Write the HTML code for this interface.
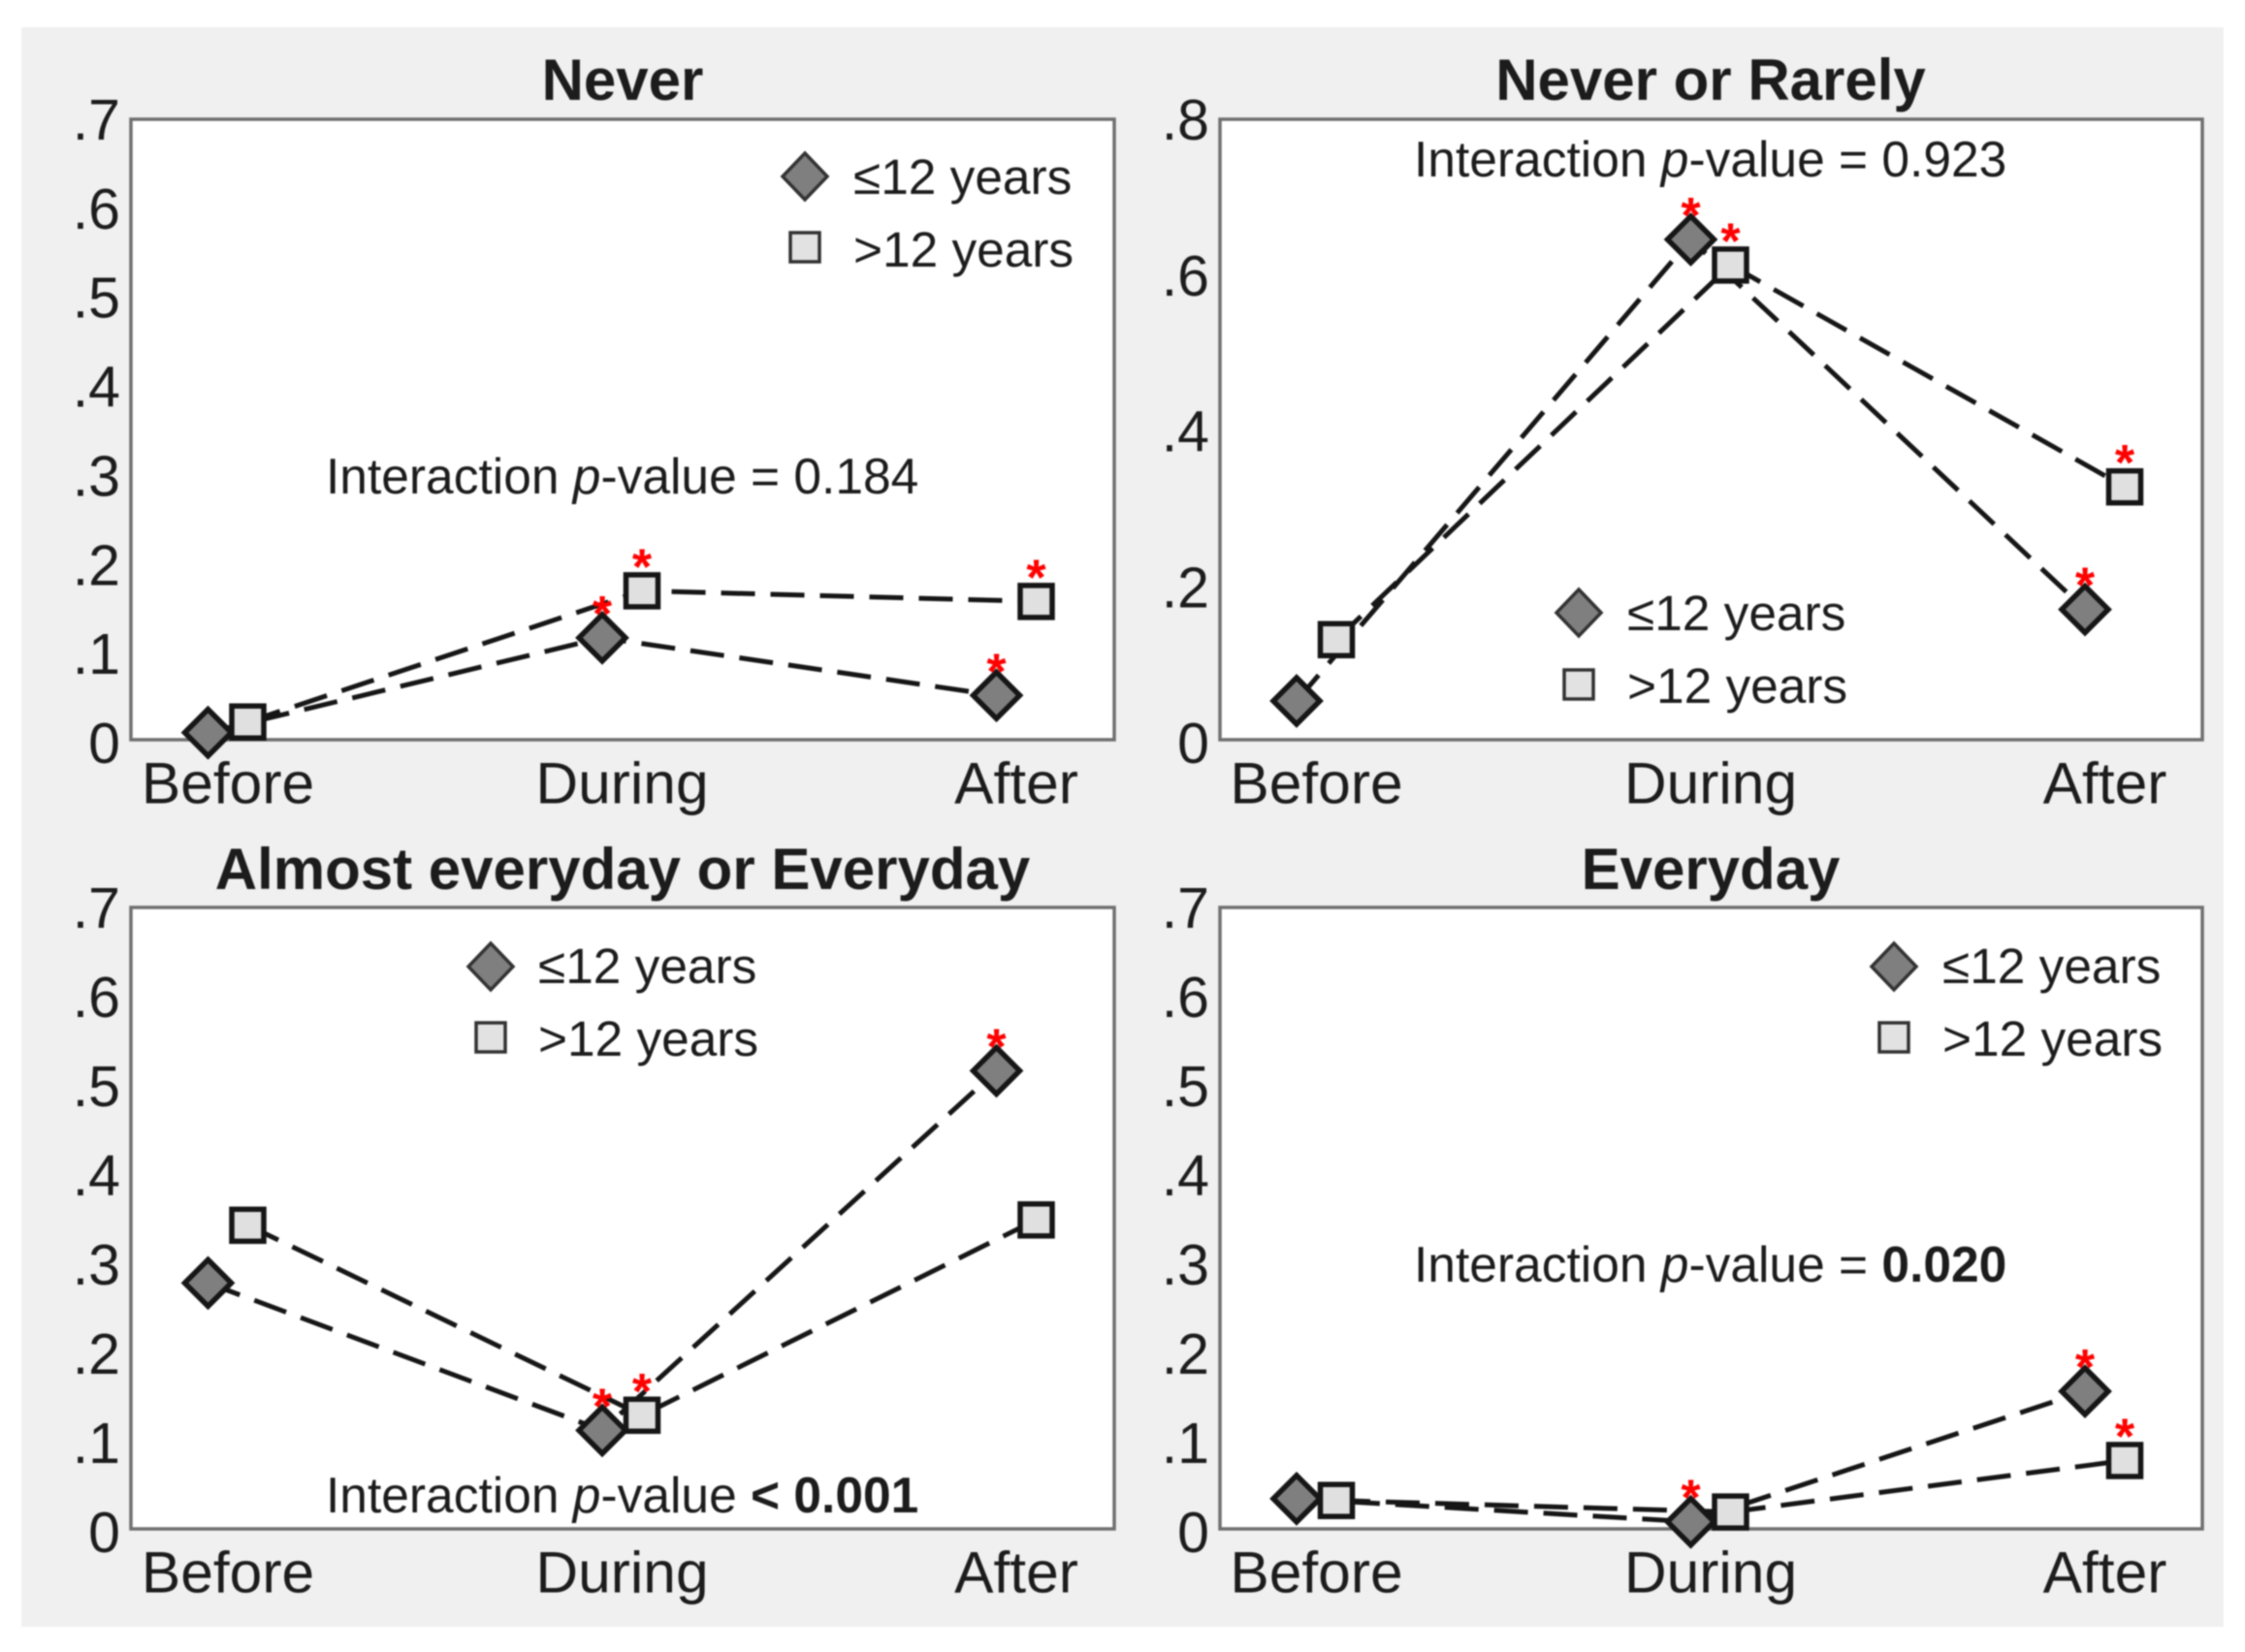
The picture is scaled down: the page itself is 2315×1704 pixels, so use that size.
<!DOCTYPE html>
<html lang="en">
<head>
<meta charset="utf-8">
<title>Interaction line charts</title>
<style>
html,body{margin:0;padding:0;background:#fff;width:2315px;height:1704px;overflow:hidden}
svg{display:block;filter:blur(0.7px)}
text{font-family:"Liberation Sans",sans-serif;fill:#1c1c1c}
.title{font-size:60px;font-weight:bold;text-anchor:middle}
.note{font-size:51.5px}
.leg{font-size:51.4px}
.tick{font-size:59px;text-anchor:end}
.cat{font-size:60.5px;text-anchor:middle}
.star{font-size:52px;fill:#f00;text-anchor:middle;font-weight:bold}
.frame{fill:#fff;stroke:#707070;stroke-width:3.5}
.ld{fill:#7f7f7f;stroke:#333;stroke-width:3.5}
.ls{fill:#e2e2e2;stroke:#333;stroke-width:3.5}
</style>
</head>
<body>
<svg id="figure" width="2315" height="1704" viewBox="0 0 2315 1704" xmlns="http://www.w3.org/2000/svg">
  <rect x="22" y="28" width="2271" height="1650" fill="#f0f0f0"/>

  <g id="panel-0">
    <rect class="frame" x="135" y="123" width="1014" height="640"/>
    <text class="title" x="642" y="103">Never</text>
    <text class="note" x="336" y="509">Interaction <tspan font-style="italic">p</tspan>-value = 0.184</text>
    <path class="ld" d="M830 158l23 24l-23 24l-23-24z"/>
    <rect class="ls" x="815" y="240" width="30" height="30"/>
    <text class="leg" x="880" y="200">≤12 years</text>
    <text class="leg" x="880" y="275">&gt;12 years</text>
  </g>

  <g id="panel-1">
    <rect class="frame" x="1258" y="123" width="1013" height="640"/>
    <text class="title" x="1764" y="103">Never or Rarely</text>
    <text class="note" x="1458" y="182">Interaction <tspan font-style="italic">p</tspan>-value = 0.923</text>
    <path class="ld" d="M1628 608l23 24l-23 24l-23-24z"/>
    <rect class="ls" x="1613" y="691" width="30" height="30"/>
    <text class="leg" x="1678" y="650">≤12 years</text>
    <text class="leg" x="1678" y="725">&gt;12 years</text>
  </g>

  <g id="panel-2">
    <rect class="frame" x="135" y="936" width="1014" height="641"/>
    <text class="title" x="642" y="917">Almost everyday or Everyday</text>
    <text class="note" x="336" y="1560">Interaction <tspan font-style="italic">p</tspan>-value <tspan font-weight="bold">&lt; 0.001</tspan></text>
    <path class="ld" d="M506 973l23 24l-23 24l-23-24z"/>
    <rect class="ls" x="491" y="1055" width="30" height="30"/>
    <text class="leg" x="555" y="1014">≤12 years</text>
    <text class="leg" x="555" y="1089">&gt;12 years</text>
  </g>

  <g id="panel-3">
    <rect class="frame" x="1258" y="936" width="1013" height="641"/>
    <text class="title" x="1764" y="917">Everyday</text>
    <text class="note" x="1458" y="1322">Interaction <tspan font-style="italic">p</tspan>-value = <tspan font-weight="bold">0.020</tspan></text>
    <path class="ld" d="M1953 973l23 24l-23 24l-23-24z"/>
    <rect class="ls" x="1938" y="1055" width="30" height="30"/>
    <text class="leg" x="2003" y="1014">≤12 years</text>
    <text class="leg" x="2003" y="1089">&gt;12 years</text>
  </g>
</svg>

<script>
const categories = ["Before", "During", "After"];

const ticksP1 = [0, .1, .2, .3, .4, .5, .6, .7];
const ticksP2 = [0, .2, .4, .6, .8];
const tickLabelsP1 = ["0", ".1", ".2", ".3", ".4", ".5", ".6", ".7"];
const tickLabelsP2 = ["0", ".2", ".4", ".6", ".8"];

const neverLow = [0.008, 0.115, 0.050];
const neverHigh = [0.020, 0.168, 0.156];
const rarelyLow = [0.050, 0.645, 0.168];
const rarelyHigh = [0.129, 0.612, 0.326];
const almostLow = [0.277, 0.111, 0.516];
const almostHigh = [0.342, 0.128, 0.348];
const everydayLow = [0.034, 0.008, 0.155];
const everydayHigh = [0.032, 0.019, 0.077];

const neverLowSig = [0, 1, 1];
const neverHighSig = [0, 1, 1];
const rarelyLowSig = [0, 1, 1];
const rarelyHighSig = [0, 1, 1];
const almostLowSig = [0, 1, 1];
const almostHighSig = [0, 1, 0];
const everydayLowSig = [0, 1, 1];
const everydayHighSig = [0, 0, 1];

const NS = "http://www.w3.org/2000/svg";

function make(tag, parent, attrs) {
  const node = document.createElementNS(NS, tag);
  for (const k in attrs) node.setAttribute(k, attrs[k]);
  parent.appendChild(node);
  return node;
}

function drawPanel(id, slug, layout, ticks, tickLabels, low, high, lowSig, highSig) {
  const g = document.getElementById(id);
  const xAxis = function (i, shift) { return layout.x0 + 406.5 * i + shift; };
  const yAxis = function (v) { return layout.bottom - (v / layout.max) * layout.height; };

  ticks.forEach(function (t, i) {
    const label = make("text", g, { class: "tick", x: layout.tickX, y: yAxis(t) + 24 - 3 * (t / layout.max) });
    label.textContent = tickLabels[i];
    
    
  });

  categories.forEach(function (c, i) {
    const label = make("text", g, { class: "cat", x: xAxis(i, 0), y: layout.bottom + 65.5 });
    label.textContent = c;
    
    
  });

  const series = [
    { values: low, sig: lowSig, shift: -20.5, kind: "low" },
    { values: high, sig: highSig, shift: 20.5, kind: "high" }
  ];

  series.forEach(function (s) {
    const d = s.values.map(function (v, i) {
      return (i ? "L" : "M") + xAxis(i, s.shift) + " " + yAxis(v);
    }).join("");
    const line = make("path", g, { d: d, fill: "none", stroke: "#161616", "stroke-width": 5, "stroke-dasharray": "35 16" });
    
    
  });

  series.forEach(function (s) {
    s.values.forEach(function (v, i) {
      const cx = xAxis(i, s.shift);
      const cy = yAxis(v);
      let mark;
      if (s.kind === "low") {
        mark = make("path", g, { d: "M" + cx + " " + (cy - 24) + "l24 24l-24 24l-24-24z", fill: "#7f7f7f", stroke: "#161616", "stroke-width": 5.5, "stroke-linejoin": "miter" });
      } else {
        mark = make("rect", g, { x: cx - 16.5, y: cy - 16.5, width: 33, height: 33, fill: "#e0e0e0", stroke: "#161616", "stroke-width": 5.5 });
      }
      
      
      if (s.sig[i]) {
        const star = make("text", g, { class: "star", x: cx, y: cy - 7 });
        star.textContent = "*";
        
        
      }
    });
  });
}

drawPanel("panel-0", "never", { x0: 235, tickX: 124, bottom: 763, height: 640, max: 0.7 }, ticksP1, tickLabelsP1, neverLow, neverHigh, neverLowSig, neverHighSig);
drawPanel("panel-1", "never-or-rarely", { x0: 1357.5, tickX: 1247, bottom: 763, height: 640, max: 0.8 }, ticksP2, tickLabelsP2, rarelyLow, rarelyHigh, rarelyLowSig, rarelyHighSig);
drawPanel("panel-2", "almost-everyday", { x0: 235, tickX: 124, bottom: 1577, height: 641, max: 0.7 }, ticksP1, tickLabelsP1, almostLow, almostHigh, almostLowSig, almostHighSig);
drawPanel("panel-3", "everyday", { x0: 1357.5, tickX: 1247, bottom: 1577, height: 641, max: 0.7 }, ticksP1, tickLabelsP1, everydayLow, everydayHigh, everydayLowSig, everydayHighSig);
</script>
</body>
</html>
